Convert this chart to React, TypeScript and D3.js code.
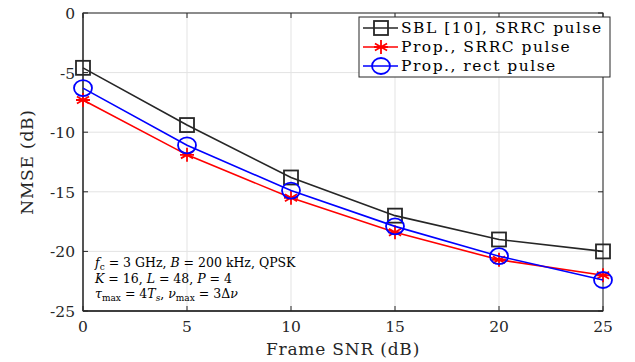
import * as d3 from 'd3';

const snr = [0, 5, 10, 15, 20, 25];
const sbl = [-4.6, -9.4, -13.8, -17.0, -19.0, -20.0];
const propSrrc = [-7.3, -11.9, -15.5, -18.4, -20.7, -22.0];
const propRect = [-6.3, -11.1, -14.9, -17.9, -20.4, -22.4];
const xTicks = [0, 5, 10, 15, 20, 25];
const yTicks = [0, -5, -10, -15, -20, -25];
const legendLabels = ['SBL [10], SRRC pulse', 'Prop., SRRC pulse', 'Prop., rect pulse'];

const W = 635, H = 362;
const m = { left: 83, right: 32, top: 13, bottom: 51 };
const font = '"DejaVu Serif", "Liberation Serif", serif';

function Marker({ kind, x, y, color }: { kind: string; x: number; y: number; color: string }) {
  if (kind === 'square') return <rect x={x - 7} y={y - 7} width={14} height={14} fill="none" stroke={color} strokeWidth={1.8} />;
  if (kind === 'circle') return <ellipse cx={x} cy={y} rx={9} ry={8} fill="none" stroke={color} strokeWidth={1.8} />;
  const r = 7;
  const d = [0, 60, 120].map(a => {
    const t = (a * Math.PI) / 180;
    return `M${x - r * Math.sin(t)},${y - r * Math.cos(t)}L${x + r * Math.sin(t)},${y + r * Math.cos(t)}`;
  }).join('') + `M${x - r},${y}L${x + r},${y}`;
  return <path d={d} stroke={color} strokeWidth={1.8} fill="none" />;
}

export default function App() {
  const x = d3.scaleLinear().domain([0, 25]).range([m.left, W - m.right]);
  const y = d3.scaleLinear().domain([-25, 0]).range([H - m.bottom, m.top]);
  const series = [
    { vals: sbl, color: '#262626', kind: 'square' },
    { vals: propSrrc, color: '#ff0000', kind: 'star' },
    { vals: propRect, color: '#0000ff', kind: 'circle' },
  ];
  const line = d3.line<number>().x((_, i) => x(snr[i])).y(d => y(d));
  const fmt = (v: number) => (v < 0 ? '-' + Math.abs(v) : String(v));

  const lx = 359, ly = 17, lw = 251, lh = 60;
  const ax = x(0) + 12;

  return (
    <svg width={W} height={H} style={{ position: 'absolute', left: 0, top: 0, background: '#fff' }}>
      {xTicks.map(t => (
        <line key={'gx' + t} x1={x(t)} x2={x(t)} y1={y(-25)} y2={y(0)} stroke="#e3e3e3" strokeWidth={1} />
      ))}
      {yTicks.map(t => (
        <line key={'gy' + t} x1={x(0)} x2={x(25)} y1={y(t)} y2={y(t)} stroke="#e3e3e3" strokeWidth={1} />
      ))}
      <rect x={x(0)} y={y(0)} width={x(25) - x(0)} height={y(-25) - y(0)} fill="none" stroke="#262626" strokeWidth={1} />
      <line x1={x(0)} x2={x(0)} y1={y(0)} y2={y(-25)} stroke="#555" strokeWidth={2} />
      <line x1={x(0)} x2={x(25)} y1={y(-25)} y2={y(-25)} stroke="#262626" strokeWidth={1.5} />
      {xTicks.map(t => (
        <g key={'tx' + t}>
          <line x1={x(t)} x2={x(t)} y1={y(-25)} y2={y(-25) - 5} stroke="#262626" />
          <line x1={x(t)} x2={x(t)} y1={y(0)} y2={y(0) + 5} stroke="#262626" />
          <text x={x(t)} y={y(-25) + 21} textAnchor="middle" fontFamily={font} fontSize={15.5} fill="#262626">{t}</text>
        </g>
      ))}
      {yTicks.map(t => (
        <g key={'ty' + t}>
          <line x1={x(0)} x2={x(0) + 5} y1={y(t)} y2={y(t)} stroke="#262626" />
          <line x1={x(25)} x2={x(25) - 5} y1={y(t)} y2={y(t)} stroke="#262626" />
          <text x={x(0) - 8} y={y(t) + 6} textAnchor="end" fontFamily={font} fontSize={15.5} fill="#262626">{fmt(t)}</text>
        </g>
      ))}
      <text x={(x(0) + x(25)) / 2} y={H - 7} textAnchor="middle" fontFamily={font} fontSize={17} letterSpacing={0.8} fill="#262626">Frame SNR (dB)</text>
      <text transform={`translate(33,${(y(0) + y(-25)) / 2}) rotate(-90)`} textAnchor="middle" fontFamily={font} fontSize={17} letterSpacing={0.8} fill="#262626">NMSE (dB)</text>

      {series.map((s, si) => (
        <g key={'s' + si}>
          <path d={line(s.vals) || ''} fill="none" stroke={s.color} strokeWidth={1.6} />
          {s.vals.map((v, i) => <Marker key={i} kind={s.kind} x={x(snr[i])} y={y(v)} color={s.color} />)}
        </g>
      ))}

      <g fontFamily={font} fontSize={12.5} fill="#000">
        <text x={ax} y={267}><tspan fontStyle="italic">f</tspan><tspan fontSize={9} dy={3}>c</tspan><tspan dy={-3}> = 3 GHz, </tspan><tspan fontStyle="italic">B</tspan> = 200 kHz, QPSK</text>
        <text x={ax} y={283}><tspan fontStyle="italic">K</tspan> = 16, <tspan fontStyle="italic">L</tspan> = 48, <tspan fontStyle="italic">P</tspan> = 4</text>
        <text x={ax} y={298}><tspan fontStyle="italic">τ</tspan><tspan fontSize={9} dy={3}>max</tspan><tspan dy={-3}> = 4</tspan><tspan fontStyle="italic">T</tspan><tspan fontSize={9} fontStyle="italic" dy={3}>s</tspan><tspan dy={-3}>, </tspan><tspan fontStyle="italic">ν</tspan><tspan fontSize={9} dy={3}>max</tspan><tspan dy={-3}> = 3Δ</tspan><tspan fontStyle="italic">ν</tspan></text>
      </g>

      <rect x={lx} y={ly} width={lw} height={lh} fill="#fff" stroke="#262626" strokeWidth={1} />
      {series.map((s, i) => {
        const ry = ly + 11 + i * 19;
        return (
          <g key={'l' + i}>
            <line x1={lx + 4} x2={lx + 39} y1={ry} y2={ry} stroke={s.color} strokeWidth={1.6} />
            <Marker kind={s.kind} x={lx + 22} y={ry} color={s.color} />
            <text x={lx + 42} y={ry + 5} fontFamily={font} fontSize={15.5} letterSpacing={1.5} fill="#000">{legendLabels[i]}</text>
          </g>
        );
      })}
    </svg>
  );
}
